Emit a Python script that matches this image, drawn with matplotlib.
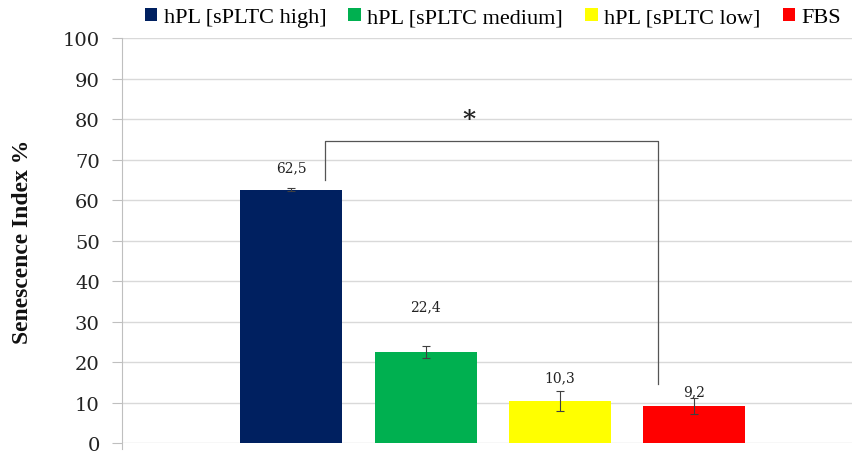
import matplotlib
matplotlib.use("Agg")
import matplotlib.pyplot as plt

series = ["hPL [sPLTC high]", "hPL [sPLTC medium]", "hPL [sPLTC low]", "FBS"]
values = [62.5, 22.4, 10.3, 9.2]
errors = [0.4, 1.5, 2.5, 2.0]
value_labels = ["62,5", "22,4", "10,3", "9,2"]
colors = ["#002060", "#00B050", "#FFFF00", "#FF0000"]
label_offsets = [5.6, 11.4, 6.0, 3.6]
yticks = [0, 10, 20, 30, 40, 50, 60, 70, 80, 90, 100]

serif = ["Liberation Serif", "DejaVu Serif"]
serif2 = ["DejaVu Serif"]

fig = plt.figure(figsize=(8.53, 4.52), dpi=100)
ax = fig.add_axes([0.143, 0.0177, 0.857, 0.896])

xs = list(range(len(values)))
for x, v, e, c, lab in zip(xs, values, errors, colors, series):
    ax.bar(x, v, width=0.76, color=c, label=lab, zorder=2)
    ax.errorbar(x, v, yerr=e, fmt="none", ecolor="#404040", elinewidth=0.8,
                capsize=3, capthick=0.8, zorder=3)

for x, v, t, off in zip(xs, values, value_labels, label_offsets):
    ax.text(x, v + off, t, ha="center", va="center", fontsize=10,
            family=serif2, color="#222222", zorder=4)

# significance bracket
bx0, bx1 = 0.25, 2.73
ax.plot([bx0, bx0, bx1, bx1], [65.0, 74.5, 74.5, 14.5], color="#555555",
        lw=0.9, zorder=4)
ax.text(1.32, 80.0, "*", ha="center", va="center", fontsize=18,
        family=serif2, fontweight="bold", color="#222222")

ax.set_xlim(-1.26, 4.18)
ax.set_ylim(0, 100)
ax.set_yticks(yticks)
ax.set_yticklabels([str(t) for t in yticks], family=serif2, fontsize=14,
                   color="#222222")
ax.set_xticks([])
ax.grid(axis="y", color="#d9d9d9", lw=1, zorder=0)
ax.set_axisbelow(True)
for s in ["top", "right", "bottom"]:
    ax.spines[s].set_visible(False)
ax.spines["left"].set_color("#bfbfbf")
ax.spines["left"].set_bounds(-1.5, 100)
ax.tick_params(axis="y", length=7, color="#bfbfbf", pad=9)

ax.set_ylabel("Senescence Index %", family=serif, fontsize=17,
              fontweight="bold", color="#111111")
ax.yaxis.set_label_coords(-0.122, 0.5)

leg = fig.legend(loc="upper center", bbox_to_anchor=(0.578, 1.025), ncol=4,
                 frameon=False, prop={"family": serif, "size": 16},
                 handlelength=0.55, handleheight=0.55, handletextpad=0.3,
                 columnspacing=1.0)

fig.savefig("out.png", dpi=100)
